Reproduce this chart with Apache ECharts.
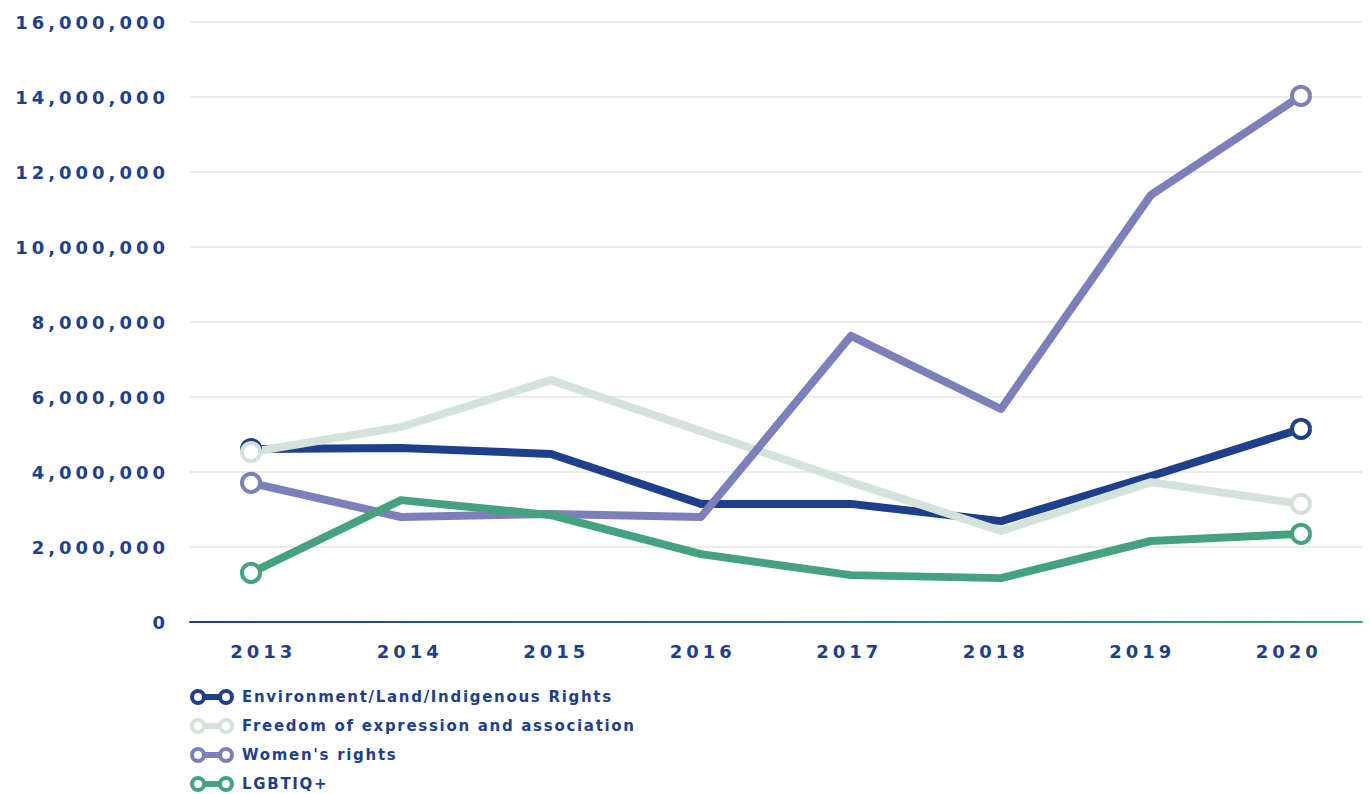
<!DOCTYPE html>
<html>
<head>
<meta charset="utf-8">
<script src="https://cdn.jsdelivr.net/npm/echarts@6.0.0/dist/echarts.min.js"></script>
<style>
html, body { margin: 0; padding: 0; background: #fff; }
#main { width: 1370px; height: 794px; }
/* wide tracking like the original typeface */
#main text { letter-spacing: 1.7px; }
#main text[text-anchor="end"], #main text[text-anchor="middle"] { letter-spacing: 4px; }
</style>
</head>
<body>
<div id="main"></div>
<script>
// 年份
var years = [2013, 2014, 2015, 2016, 2017, 2018, 2019, 2020];
var yearLabels = ['2013', '2014', '2015', '2016', '2017', '2018', '2019', '2020'];
var seriesNames = ['Environment/Land/Indigenous Rights', 'Freedom of expression and association', "Women's rights", 'LGBTIQ+'];
var seriesColors = ['#1e3f8c', '#d3e3da', '#7b80bb', '#44a37e'];
var environment = [4610000, 4640000, 4480000, 3150000, 3150000, 2690000, 3890000, 5150000];
var freedom = [4530000, 5200000, 6450000, 5090000, 3730000, 2430000, 3730000, 3150000];
var women = [3710000, 2800000, 2880000, 2800000, 7630000, 5680000, 11390000, 14030000];
var lgbtiq = [1310000, 3250000, 2850000, 1810000, 1250000, 1170000, 2160000, 2350000];
var yTicks = [0, 2000000, 4000000, 6000000, 8000000, 10000000, 12000000, 14000000, 16000000];

var textColor = '#1f3e8e';
var icon = 'path://M0,8A8,8,0,1,1,16,8A8,8,0,1,1,0,8Z M4,8A4,4,0,1,0,12,8A4,4,0,1,0,4,8Z M28,8A8,8,0,1,1,44,8A8,8,0,1,1,28,8Z M32,8A4,4,0,1,0,40,8A4,4,0,1,0,32,8Z M14,5L30,5L30,11L14,11Z';

function makeSeries(name, color, values) {
    return {
        name: name,
        type: 'line',
        xAxisIndex: 1,
        data: values.map(function (v, i) { return [years[i], v]; }),
        // 只在首尾画空心圆
        symbol: function (val, params) {
            return (params.dataIndex === 0 || params.dataIndex === years.length - 1) ? 'circle' : 'none';
        },
        symbolSize: 18,
        showAllSymbol: true,
        lineStyle: { color: color, width: 8, join: 'round', cap: 'round' },
        itemStyle: { color: '#fff', borderColor: color, borderWidth: 4 },
        emphasis: { disabled: true }
    };
}

var myChart = echarts.init(document.getElementById('main'), null, { renderer: 'svg' });
var option = {
    animation: false,
    backgroundColor: '#fff',
    grid: { left: 190, right: 8, top: 22, bottom: 172 },
    legend: {
        orient: 'vertical',
        left: 190,
        top: 689,
        padding: 0,
        itemWidth: 44,
        itemHeight: 16,
        itemGap: 13,
        icon: icon,
        selectedMode: false,
        textStyle: { color: textColor, fontFamily: 'DejaVu Sans', fontWeight: 'bold', fontSize: 15, padding: [0, 0, 0, 3] },
        data: seriesNames.map(function (n, i) {
            return { name: n, itemStyle: { color: seriesColors[i], borderWidth: 0 } };
        })
    },
    xAxis: [{
        type: 'category',
        data: yearLabels,
        boundaryGap: true,
        axisLine: {
            show: true,
            lineStyle: {
                width: 2,
                color: new echarts.graphic.LinearGradient(190, 0, 1362, 0, [
                    { offset: 0, color: '#1e3f8c' },
                    { offset: 1, color: '#3f9a86' }
                ], true)
            }
        },
        axisTick: { show: false },
        splitLine: { show: false },
        axisLabel: {
            margin: 20,
            color: textColor,
            fontFamily: 'DejaVu Sans',
            fontWeight: 'bold',
            fontSize: 18
        }
    }, {
        type: 'value',
        show: false,
        min: 2012.5933,
        max: 2020.4067,
        splitLine: { show: false }
    }],
    yAxis: {
        type: 'value',
        min: yTicks[0],
        max: yTicks[yTicks.length - 1],
        interval: 2000000,
        axisLine: { show: false },
        axisTick: { show: false },
        splitLine: { lineStyle: { color: '#ebebeb', width: 2 } },
        axisLabel: {
            margin: 21,
            color: textColor,
            fontFamily: 'DejaVu Sans',
            fontWeight: 'bold',
            fontSize: 18,
            formatter: function (v) { return v.toLocaleString('en-US'); }
        }
    },
    series: [
        makeSeries(seriesNames[0], seriesColors[0], environment),
        makeSeries(seriesNames[1], seriesColors[1], freedom),
        makeSeries(seriesNames[2], seriesColors[2], women),
        makeSeries(seriesNames[3], seriesColors[3], lgbtiq)
    ]
};
myChart.setOption(option, true);
window.onresize = myChart.resize;
</script>
</body>
</html>
